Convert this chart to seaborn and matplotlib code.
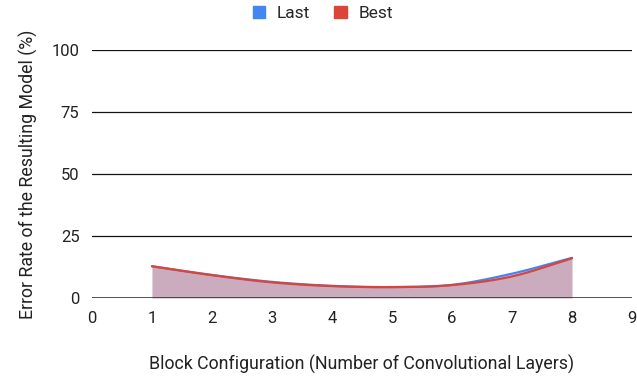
import numpy as np
import matplotlib
matplotlib.use("Agg")
import matplotlib.pyplot as plt
from matplotlib.patches import Patch
import seaborn as sns

layers = [1, 2, 3, 4, 5, 6, 7, 8]
last_err = [12.8, 9.3, 6.5, 4.9, 4.4, 5.3, 9.8, 16.2]
best_err = [12.8, 9.2, 6.3, 4.8, 4.4, 5.2, 8.7, 16.0]
series_names = ["Last", "Best"]
series_colors = ["#4285F4", "#DB4437"]
x_ticks = list(range(0, 10))
y_ticks = [0, 25, 50, 75, 100]


def smooth_curve(x, y, n=40):
    """Cardinal (Catmull-Rom) spline through the given points for drawing."""
    x = np.asarray(x, float)
    y = np.asarray(y, float)
    m = np.zeros_like(y)
    m[1:-1] = (y[2:] - y[:-2]) / (x[2:] - x[:-2])
    m[0] = (y[1] - y[0]) / (x[1] - x[0])
    m[-1] = (y[-1] - y[-2]) / (x[-1] - x[-2])
    xs, ys = [], []
    for i in range(len(x) - 1):
        h = x[i + 1] - x[i]
        t = np.linspace(0, 1, n, endpoint=(i == len(x) - 2))
        h00 = 2 * t**3 - 3 * t**2 + 1
        h10 = t**3 - 2 * t**2 + t
        h01 = -2 * t**3 + 3 * t**2
        h11 = t**3 - t**2
        xs.append(x[i] + t * h)
        ys.append(h00 * y[i] + h10 * h * m[i] + h01 * y[i + 1] + h11 * h * m[i + 1])
    return np.concatenate(xs), np.concatenate(ys)


sns.set_theme(style="white")
plt.rcParams["font.family"] = ["Roboto", "DejaVu Sans"]

fig = plt.figure(figsize=(6.37, 3.79), dpi=100)
ax = fig.add_axes([0.1444, 0.2137, 0.8477, 0.6544])

for name, vals, color in zip(series_names, [last_err, best_err], series_colors):
    xs, ys = smooth_curve(layers, vals)
    ax.fill_between(xs, 0, ys, color=color, alpha=0.3, linewidth=0)
    sns.lineplot(x=xs, y=ys, color=color, linewidth=1.6, ax=ax, sort=False)

tick_fs = 12
label_fs = 12.8
ax.set_xlim(0, 9)
ax.set_ylim(0, 100)
ax.set_xticks(x_ticks)
ax.set_yticks(y_ticks)
ax.set_xticklabels([str(v) for v in x_ticks], fontsize=tick_fs, color="#222222")
ax.set_yticklabels([str(v) for v in y_ticks], fontsize=tick_fs, color="#222222")
ax.tick_params(axis="both", length=0)
ax.tick_params(axis="y", pad=9)
ax.tick_params(axis="x", pad=9)

for v in y_ticks[1:]:
    ax.axhline(v, color="#111111", linewidth=0.9, zorder=0)
ax.axhline(0, color="#333333", linewidth=1.2, zorder=3)
for side in ["left", "right", "top", "bottom"]:
    ax.spines[side].set_visible(False)

ax.set_xlabel("Block Configuration (Number of Convolutional Layers)",
              fontsize=label_fs, color="#222222", labelpad=21)
ax.set_ylabel("Error Rate of the Resulting Model (%)",
              fontsize=label_fs, color="#222222", labelpad=10)

handles = [Patch(facecolor=c, edgecolor=c) for c in series_colors]
fig.legend(handles, series_names, loc="upper center", bbox_to_anchor=(0.507, 1.025),
           ncol=2, frameon=False, fontsize=12.5, handlelength=0.7, handleheight=0.7,
           handletextpad=0.7, columnspacing=1.4)

fig.savefig("out.png", dpi=100)
